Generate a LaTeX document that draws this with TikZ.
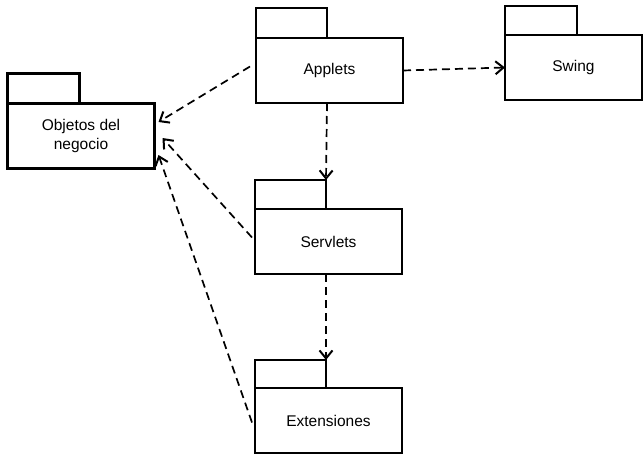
\documentclass[tikz,border=0pt]{standalone}
\usepackage{fontspec}
\setmainfont{Liberation Sans}
\usetikzlibrary{arrows.meta,calc}
\begin{document}
\begin{tikzpicture}[x=1pt,y=-1pt,
  pkgbody/.style={draw,line width=2.3pt,rectangle,inner sep=0pt,outer sep=0pt,
    minimum width=147pt,minimum height=65pt,align=center,
    font=\fontsize{15.5}{19}\selectfont},
  pkgtab/.style={draw,line width=2.3pt,rectangle,inner sep=0pt,outer sep=0pt,
    minimum width=71pt,minimum height=30pt,anchor=south west},
  dep/.style={line width=1.7pt,dash pattern=on 8pt off 5pt,
    -{Straight Barb[length=8pt,width=13pt,line width=2pt]}}]
\useasboundingbox (0,0) rectangle (644,455);

% package bodies
\node[pkgbody] (ob) at (81,136) {Objetos del\\negocio};
\node[pkgbody] (app) at (329.5,70.5) {Applets};
\node[pkgbody,minimum width=137pt] (sw) at (573.5,67.5) {Swing};
\node[pkgbody] (srv) at (328.5,241.5) {Servlets};
\node[pkgbody] (ext) at (328.5,420.5) {Extensiones};

% package tabs
\node[pkgtab,minimum width=72pt] (obtab) at (ob.north west) {};
\node[pkgtab] (apptab) at (app.north west) {};
\node[pkgtab,minimum width=72pt,minimum height=29pt] (swtab) at (sw.north west) {};
\node[pkgtab,minimum height=29pt] (srvtab) at (srv.north west) {};
\node[pkgtab,minimum height=28pt] (exttab) at (ext.north west) {};

% dependencies
\draw[dep] (app.east) -- (sw.west);
\draw[dep] (apptab.east |- app.south) -- (srvtab.north east);
\draw[dep] (srvtab.east |- srv.south) -- (exttab.north east);
\draw[dep] ($(app.west)+(-6,-4)$) -- ($(ob.east)+(4,-14)$);
\draw[dep] ($(srv.west)+(-3,-4)$) -- ($(ob.east)+(8,2)$);
\draw[dep] ($(ext.west)+(-3,2)$) -- ($(ob.east)+(4,19)$);
\end{tikzpicture}
\end{document}
